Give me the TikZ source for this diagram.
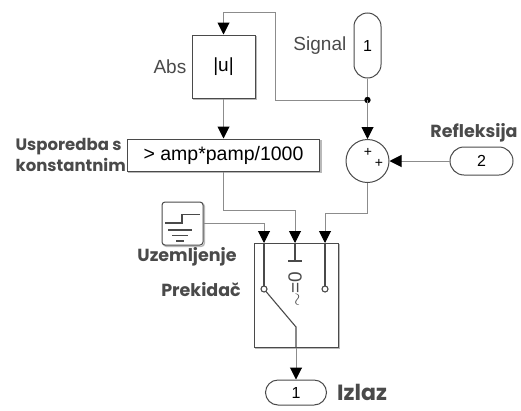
\documentclass[tikz,border=0pt]{standalone}
\usepackage{fontspec}
\setmainfont{Liberation Sans}
\newfontfamily\lblfont{Poppins}
\usetikzlibrary{arrows.meta,calc}
\definecolor{blkc}{HTML}{4A4A4A}
\definecolor{linec}{HTML}{8C8C8C}
\tikzset{
  blk/.style={draw=blkc, line width=1pt, fill=white, inner sep=0pt,
    preaction={draw=gray!55, line width=1.4pt, transform canvas={shift={(1.3pt,-1.3pt)}}},
    font=\fontsize{19}{22}\selectfont},
  port/.style={draw=blkc, line width=1pt, fill=white, inner sep=0pt, font=\fontsize{16}{18}\selectfont},
  conn/.style={draw=linec, line width=1pt, -{Triangle[length=12pt,width=12pt,fill=black,color=black]}},
  wire/.style={draw=linec, line width=1pt},
  lbl/.style={font=\lblfont\bfseries\fontsize{17.5}{20}\selectfont, text=blkc, inner sep=1pt},
  rlbl/.style={font=\fontsize{19}{22}\selectfont, text=blkc, inner sep=2pt},
  inner/.style={draw=blkc, line width=1.1pt},
}
\begin{document}
\begin{tikzpicture}[x=1pt,y=-1pt]
\useasboundingbox (0,0) rectangle (521,410);
% blocks
\node[blk, minimum width=63, minimum height=63] (abs) at (223.5,66.5) {|u|};
\node[rlbl, anchor=east, inner sep=5pt] (absl) at (abs.west) {Abs};
\node[blk, minimum width=192, minimum height=32, font=\fontsize{19.5}{22}\selectfont] (cmp) at (223.5,155) {> amp*pamp/1000};
\node[lbl, anchor=east, align=left, font=\lblfont\bfseries\fontsize{16.5}{21}\selectfont] (cmpl) at (cmp.west) {Usporedba s\\konstantnim};
\node[port, minimum width=27, minimum height=65, rounded corners=13.5pt] (sig) at (367.5,45.5) {1};
\node[rlbl, anchor=east, inner sep=7pt] (sigl) at (sig.west) {Signal};
\coordinate (dot) at (367.5,100);
\node[draw=blkc, line width=1pt, circle, minimum size=43, inner sep=0pt, fill=white] (sum) at (367.5,161) {};
\node[font=\fontsize{14}{15}\selectfont, inner sep=0pt] (plus1) at (368,152) {+};
\node[font=\fontsize{14}{15}\selectfont, inner sep=0pt] (plus2) at (379,163) {+};
\node[port, minimum width=63, minimum height=28, rounded corners=14pt] (p2) at (481.5,161) {2};
\node[lbl, anchor=south] (p2l) at (474,143) {Refleksija};
% ground
\node[blk, minimum width=41, minimum height=43, rounded corners=3pt] (gnd) at (182.5,223.5) {};
\draw[inner] (165,223) -- (182,223) -- (182,214.5) -- (200,214.5);
\draw[inner] (168,230) -- (192,230);
\draw[inner] (172,235.5) -- (188,235.5);
\draw[inner] (176,241) -- (184,241);
\node[lbl, anchor=north] (gndl) at (187,246) {Uzemljenje};
% switch
\node[blk, minimum width=84, minimum height=104] (sw) at (296,295) {};
\node[lbl, anchor=east] (swl) at (242,290) {Prekidač};
\coordinate (in1) at (264,243);
\coordinate (in2) at (295,243);
\coordinate (in3) at (325,243);
\draw[inner] (in1) -- (264,286);
\draw[inner] (264,289) circle (3);
\draw[inner] (in3) -- (325,286);
\draw[inner] (325,289) circle (3);
\draw[inner] (in2) -- (295,261);
\draw[inner] (288,261) -- (302,261);
\node[rotate=90, font=\fontsize{19}{20}\selectfont, text=blkc, inner sep=0pt] (crit) at (295,289) {$\sim$=0};
\draw[inner] (266,291.5) -- (296,327) -- (sw.south);
% output
\node[port, minimum width=61, minimum height=25, rounded corners=12.5pt] (out) at (296,392.5) {1};
\node[lbl, anchor=west, font=\lblfont\bfseries\fontsize{22}{25}\selectfont] (outl) at (336,392) {Izlaz};
% connectors
\coordinate (fb) at (275,12);
\draw[conn] (dot) -| (fb) -| (abs.north);
\draw[wire] (sig.south) -- (dot);
\fill[black] (dot) circle (3.2);
\draw[conn] (dot) -- (sum.north);
\draw[conn] (p2.west) -- (sum.east);
\draw[conn] (abs.south) -- (cmp.north);
\coordinate (j2) at (295,210);
\coordinate (j3) at (325,213);
\draw[conn] (cmp.south) |- (j2) -- (in2);
\draw[conn] (sum.south) |- (j3) -- (in3);
\draw[conn] (gnd.east) -| (in1);
\draw[conn] (sw.south) -- (out.north);
\end{tikzpicture}
\end{document}
